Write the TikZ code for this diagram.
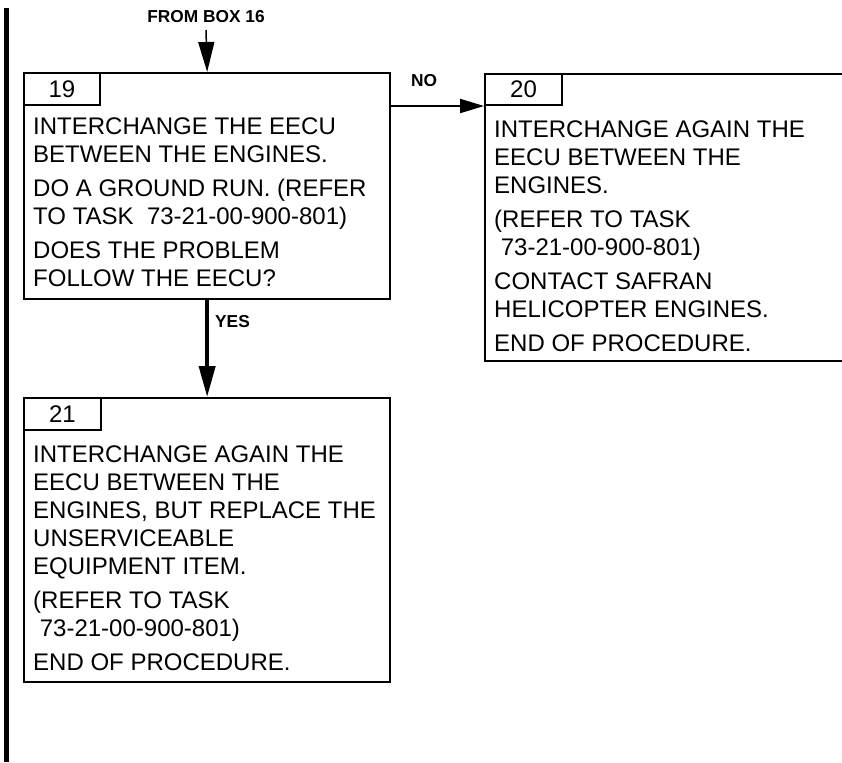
\documentclass[tikz,border=0pt]{standalone}
\usepackage{fontspec}
\setmainfont{Liberation Sans}
\usetikzlibrary{arrows.meta}
\begin{document}
\begin{tikzpicture}[x=1pt,y=-1pt]
\tikzset{
  box/.style={draw, line width=2.3pt, inner sep=0, anchor=north west},
  numbox/.style={draw, line width=2pt, inner sep=0, anchor=north west, font=\fontsize{24}{28}\selectfont},
  body/.style={inner sep=0, anchor=north west, align=left, font=\fontsize{24}{28}\selectfont},
  lbl/.style={inner sep=0, font=\bfseries\fontsize{17.3}{19}\selectfont},
  fromarrow/.style={line width=1.5pt, -{Triangle[length=30pt, width=16pt]}},
  noarrow/.style={line width=2pt, -{Triangle[length=24pt, width=14pt]}},
  yesarrow/.style={line width=4pt, -{Triangle[length=31pt, width=16pt]}},
}
\useasboundingbox (0,0) rectangle (842,762);
\clip (0,0) rectangle (842,762);
% left change bar
\draw[line width=5pt] (6.5,8) -- (6.5,762);
% boxes
\node[box, minimum width=366pt, minimum height=226pt] (b19) at (23,72) {};
\node[box, minimum width=420pt, minimum height=287pt] (b20) at (484,73) {};
\node[box, minimum width=366pt, minimum height=284pt] (b21) at (23,397) {};
% number boxes
\node[numbox, minimum width=76pt, minimum height=32pt] (l19) at (23,72) {19};
\node[numbox, minimum width=77pt, minimum height=31pt] (l20) at (484,73) {20};
\node[numbox, minimum width=77pt, minimum height=32pt] (l21) at (23,397) {21};
% texts
\node[body] (t19) at (33,118) {INTERCHANGE THE EECU\\
BETWEEN THE ENGINES.\\[6pt]
DO A GROUND RUN. (REFER\\
TO TASK\hspace{0.556em}73-21-00-900-801)\\[6pt]
DOES THE PROBLEM\\
FOLLOW THE EECU?};
\node[body] (t20) at (494,121) {INTERCHANGE AGAIN THE\\
EECU BETWEEN THE\\
ENGINES.\\[6pt]
(REFER TO TASK\\
\hspace*{0.278em}73-21-00-900-801)\\[6pt]
CONTACT SAFRAN\\
HELICOPTER ENGINES.\\[6pt]
END OF PROCEDURE.};
\node[body] (t21) at (33,446) {INTERCHANGE AGAIN THE\\
EECU BETWEEN THE\\
ENGINES, BUT REPLACE THE\\
UNSERVICEABLE\\
EQUIPMENT ITEM.\\[6pt]
(REFER TO TASK\\
\hspace*{0.278em}73-21-00-900-801)\\[6pt]
END OF PROCEDURE.};
% connectors
\node[lbl, anchor=base] (fromlbl) at (206,23) {FROM BOX 16};
\coordinate (fromtop) at (206,30);
\draw[fromarrow] (fromtop) -- (b19.north);
\draw[noarrow] (b19.east |- l20.south west) -- (l20.south west);
\node[lbl, anchor=base] (nolbl) at (424,87) {NO};
\draw[yesarrow] (b19.south) -- (b21.north);
\node[lbl, anchor=base west] (yeslbl) at (215,327) {YES};
\end{tikzpicture}
\end{document}
